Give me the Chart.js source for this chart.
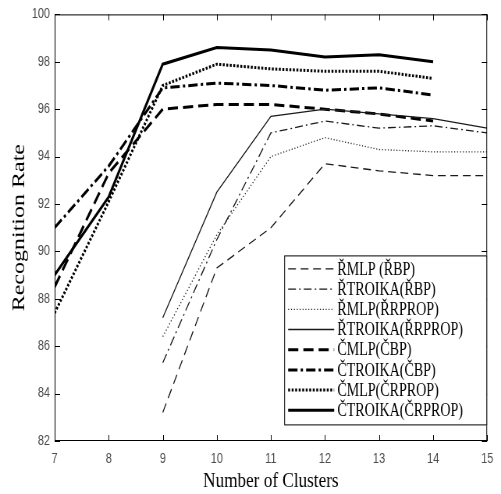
<!DOCTYPE html>
<html>
<head>
<meta charset="utf-8">
<script src="https://cdn.jsdelivr.net/npm/chart.js@4.4.1/dist/chart.umd.min.js"></script>
<style>
	html, body { margin: 0; padding: 0; background: #fff; overflow: hidden; }
	/* the reference is horizontally squeezed, so draw wide and squeeze */
	#wrap { width: 642px; height: 494px; transform: scaleX(0.7804); transform-origin: 0 0; }
</style>
</head>
<body>
<div id="wrap"><canvas id="chart" width="642" height="494"></canvas></div>
<script>
// Number of clusters
const clustersC = [7, 8, 9, 10, 11, 12, 13, 14];
const clustersR = [9, 10, 11, 12, 13, 14, 15];

// Recognition rates (%)
const rMlpBp = [83.2, 89.3, 91.0, 93.7, 93.4, 93.2, 93.2];
const rTroikaBp = [85.3, 90.5, 95.0, 95.5, 95.2, 95.3, 95.0];
const rMlpRprop = [86.4, 90.7, 94.0, 94.8, 94.3, 94.2, 94.2];
const rTroikaRprop = [87.2, 92.5, 95.7, 96.0, 95.8, 95.6, 95.2];
const cMlpBp = [88.5, 93.3, 96.0, 96.2, 96.2, 96.0, 95.8, 95.5];
const cTroikaBp = [91.0, 93.6, 96.9, 97.1, 97.0, 96.8, 96.9, 96.6];
const cMlpRprop = [87.4, 92.1, 97.0, 97.9, 97.7, 97.6, 97.6, 97.3];
const cTroikaRprop = [89.0, 92.3, 97.9, 98.6, 98.5, 98.2, 98.3, 98.0];

const seriesLabels = [
	"ŘMLP (ŘBP)", "ŘTROIKA(ŘBP)", "ŘMLP(ŘRPROP)", "ŘTROIKA(ŘRPROP)",
	"ČMLP(ČBP)", "ČTROIKA(ČBP)", "ČMLP(ČRPROP)", "ČTROIKA(ČRPROP)"
];
const xTicks = [7, 8, 9, 10, 11, 12, 13, 14, 15];
const yTicks = [82, 84, 86, 88, 90, 92, 94, 96, 98, 100];

function points(xs, ys) {
	return ys.map((y, i) => ({ x: xs[i], y: y }));
}

const thin = 1.3, thick = 3;
const thinColor = "#1a1a1a", thickColor = "#000";

const datasets = [
	{ label: seriesLabels[0], data: points(clustersR, rMlpBp), borderColor: thinColor, borderWidth: thin, borderDash: [10, 6] },
	{ label: seriesLabels[1], data: points(clustersR, rTroikaBp), borderColor: thinColor, borderWidth: thin, borderDash: [10, 4, 2, 4] },
	{ label: seriesLabels[2], data: points(clustersR, rMlpRprop), borderColor: thinColor, borderWidth: thin, borderDash: [1.2, 2.5] },
	{ label: seriesLabels[3], data: points(clustersR, rTroikaRprop), borderColor: thinColor, borderWidth: thin, borderDash: [] },
	{ label: seriesLabels[4], data: points(clustersC, cMlpBp), borderColor: thickColor, borderWidth: thick, borderDash: [13, 6.5] },
	{ label: seriesLabels[5], data: points(clustersC, cTroikaBp), borderColor: thickColor, borderWidth: thick, borderDash: [12, 4, 3, 4] },
	{ label: seriesLabels[6], data: points(clustersC, cMlpRprop), borderColor: thickColor, borderWidth: thick, borderDash: [2.5, 2] },
	{ label: seriesLabels[7], data: points(clustersC, cTroikaRprop), borderColor: thickColor, borderWidth: thick, borderDash: [] }
];
datasets.forEach(d => {
	d.fill = false;
	d.pointRadius = 0;
	d.tension = 0;
	d.borderCapStyle = "butt";
});

// box round the plot with inward tick marks
const frame = {
	id: "frame",
	afterDatasetsDraw(chart) {
		const { ctx, chartArea: a, scales } = chart;
		ctx.save();
		ctx.strokeStyle = "#000";
		ctx.lineWidth = 1;
		ctx.setLineDash([]);
		ctx.strokeRect(a.left + 0.5, a.top + 0.5, a.right - a.left - 1, a.bottom - a.top - 1);
		ctx.beginPath();
		xTicks.forEach(v => {
			const x = Math.round(scales.x.getPixelForValue(v)) + 0.5;
			ctx.moveTo(x, a.bottom); ctx.lineTo(x, a.bottom - 6);
			ctx.moveTo(x, a.top); ctx.lineTo(x, a.top + 6);
		});
		yTicks.forEach(v => {
			const y = Math.round(scales.y.getPixelForValue(v)) + 0.5;
			ctx.moveTo(a.left, y); ctx.lineTo(a.left + 7, y);
			ctx.moveTo(a.right, y); ctx.lineTo(a.right - 7, y);
		});
		ctx.stroke();
		ctx.restore();
	}
};

// legend box inside the plot, bottom right
const boxLegend = {
	id: "boxLegend",
	afterDraw(chart) {
		const { ctx, chartArea: a } = chart;
		const w = 260, h = 170;
		const left = a.right - w, top = a.top + 241;
		ctx.save();
		ctx.fillStyle = "#fff";
		ctx.fillRect(left, top, w, h);
		ctx.strokeStyle = "#000";
		ctx.lineWidth = 1;
		ctx.strokeRect(left + 0.5, top + 0.5, w - 1, h - 1);
		ctx.font = "18px 'Liberation Serif', 'Times New Roman', serif";
		ctx.textBaseline = "middle";
		chart.data.datasets.forEach((d, i) => {
			const y = top + 13.5 + i * 20.2;
			ctx.beginPath();
			ctx.strokeStyle = d.borderColor;
			ctx.lineWidth = d.borderWidth;
			ctx.setLineDash(d.borderDash);
			ctx.moveTo(left + 5, y);
			ctx.lineTo(left + 64, y);
			ctx.stroke();
			ctx.setLineDash([]);
			ctx.fillStyle = "#000";
			ctx.fillText(d.label, left + 68, y + 1);
		});
		ctx.restore();
	}
};

new Chart(document.getElementById("chart"), {
	type: "line",
	data: { datasets: datasets },
	plugins: [frame, boxLegend],
	options: {
		responsive: false,
		animation: false,
		devicePixelRatio: 1,
		layout: { padding: { top: 11, right: 9, left: 0, bottom: 0 } },
		plugins: { legend: { display: false }, tooltip: { enabled: false } },
		scales: {
			x: {
				type: "linear",
				min: 7,
				max: 15,
				afterFit: s => { s.height = 53; },
				afterBuildTicks: s => { s.ticks = xTicks.map(v => ({ value: v })); },
				grid: { display: false, drawTicks: false },
				border: { display: false },
				ticks: {
					padding: 10,
					color: "#4d4d4d",
					font: { family: "'Liberation Sans', Arial, sans-serif", size: 14 }
				},
				title: {
					display: true,
					text: "Number of Clusters",
					color: "#000",
					padding: { top: 0, bottom: 0 },
					font: { family: "'Liberation Serif', 'Times New Roman', serif", size: 22 }
				}
			},
			y: {
				min: 82,
				max: 100,
				afterFit: s => { s.width = 70; },
				afterBuildTicks: s => { s.ticks = yTicks.map(v => ({ value: v })); },
				grid: { display: false, drawTicks: false },
				border: { display: false },
				ticks: {
					padding: 6,
					color: "#4d4d4d",
					font: { family: "'Liberation Sans', Arial, sans-serif", size: 14 }
				},
				title: {
					display: true,
					text: "Recognition Rate",
					color: "#000",
					padding: { top: 10, bottom: 0 },
					font: { family: "'Liberation Serif', 'Times New Roman', serif", size: 24 }
				}
			}
		}
	}
});
</script>
</body>
</html>
